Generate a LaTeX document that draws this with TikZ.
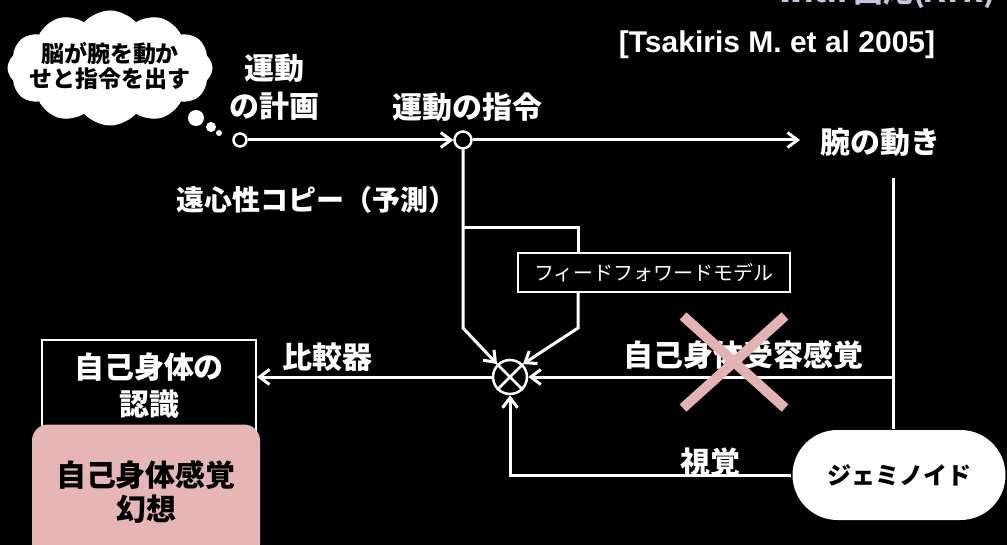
\documentclass[tikz,border=0pt]{standalone}
\usepackage{fontspec}
\setmainfont{Noto Sans CJK JP}
\newfontfamily\lat{Liberation Sans}
\usetikzlibrary{arrows.meta,shapes.symbols,shapes.misc}
\definecolor{pinkx}{HTML}{E3B2B2}
\definecolor{pinkfill}{HTML}{E6B5B5}
\definecolor{lav}{HTML}{CCC2E0}
\begin{document}
\begin{tikzpicture}[x=1pt,y=-1pt,line width=3pt,draw=white,
  lbl/.style={text=white,font=\bfseries\fontsize{30}{38}\selectfont,align=center,inner sep=0},
  arr/.style={-{Straight Barb[length=10pt,width=15pt]}},
  dot/.style={circle,fill=white,draw=none,inner sep=0},
  port/.style={circle,draw=white,fill=black,line width=2.5pt,inner sep=0}]
\fill[black] (0,0) rectangle (1007,545);
\useasboundingbox (0,0) rectangle (1007,545);

% thought cloud
\node[cloud,cloud puffs=12,cloud puff arc=100,aspect=1.75,fill=white,draw=white,line width=1pt,
  minimum width=204pt,minimum height=114pt,inner sep=0] (cloud) at (110,68) {};
\node[text=black,align=center,inner sep=0,font=\bfseries\fontsize{23}{25}\selectfont] (cloudtxt) at (110,66) {脳が腕を動か\\せと指令を出す};
\node[dot,minimum size=16pt] (b1) at (196,118) {};
\node[dot,minimum size=10pt] (b2) at (211,127) {};
\node[dot,minimum size=6pt] (b3) at (219,133) {};

% top labels
\node[anchor=base east,text=lav,font=\bfseries\fontsize{30}{30}\selectfont,inner sep=0] (credit) at (997,3) {with 西尾(ATR)};
\node[text=white,font=\lat\bfseries\fontsize{30}{34}\selectfont,inner sep=0] (ref) at (777,45) {[Tsakiris M. et al 2005]};
\node[lbl] (plantxt) at (274,87) {運動\\の計画};
\node[lbl] (cmdtxt) at (467,107) {運動の指令};
\node[lbl] (armtxt) at (880,142) {腕の動き};
\node[lbl,font=\bfseries\fontsize{28}{34}\selectfont] (efftxt) at (316,200) {遠心性コピー（予測）};

% main line
\node[port,minimum size=13pt] (plan) at (240,140) {};
\node[port,minimum size=17pt] (jn) at (463,140) {};
\coordinate (armend) at (800,140);
\draw[arr] (plan) -- (jn);
\draw[arr] (jn) -- (armend);

% comparator
\node[circle,draw=white,line width=2.5pt,minimum size=34pt,inner sep=0] (cmp) at (510,377) {};
\draw[line width=2.5pt] (cmp.north west) -- (cmp.south east) (cmp.north east) -- (cmp.south west);

% feedforward model
\node[draw=white,line width=2pt,minimum width=272pt,minimum height=39pt,inner sep=0,text=white,
  font=\fontsize{20}{24}\selectfont] (ff) at (654,272.5) {フィードフォワードモデル};
\coordinate (br) at (463,228);
\coordinate (ffx) at (578,228);
\coordinate (lk) at (463,328);
\coordinate (rk) at (578,328);
\draw[arr] (jn.south) -- (lk) -- (cmp.north west);
\draw (br) -- (ffx) -- (ffx |- ff.north);
\draw[arr] (rk |- ff.south) -- (rk) -- (cmp.north east);

% geminoid
\node[rounded rectangle,fill=white,draw=none,minimum width=213pt,minimum height=90pt,inner sep=0,
  text=black,font=\bfseries\fontsize{24}{28}\selectfont] (gem) at (899,475) {ジェミノイド};
\coordinate (at) at (893,178);
\draw (at) -- (at |- gem.north);
\coordinate (pj) at (893,377);
\draw[arr] (pj) -- (cmp.east);
\node[lbl] (proptxt) at (743,355) {自己身体受容感覚};
\draw[arr] (gem.west) -- (cmp.south |- gem.west) -- (cmp.south);
\node[lbl] (vistxt) at (710,462) {視覚};

% self recognition
\node[draw=white,line width=2pt,fill=black,minimum width=214pt,minimum height=92pt,anchor=north west,
  inner sep=0,text=white,font=\bfseries\fontsize{30}{37}\selectfont,align=center] (selfbox) at (41,339) {自己身体の\\認識};
\draw[arr] (cmp.west) -- (cmp.west -| selfbox.east);
\node[lbl] (comptxt) at (327,357) {比較器};

% illusion
\node[fill=pinkfill,draw=none,rounded corners=16pt,minimum width=228pt,minimum height=135pt,anchor=north,
  text=black,font=\bfseries\fontsize{30}{34}\selectfont,align=center] (illus) at (146,423) {自己身体感覚\\幻想};

% pink cross
\draw[pinkx,line width=10pt] (683,316) -- (785,408) (785,316) -- (683,408);
\end{tikzpicture}
\end{document}
